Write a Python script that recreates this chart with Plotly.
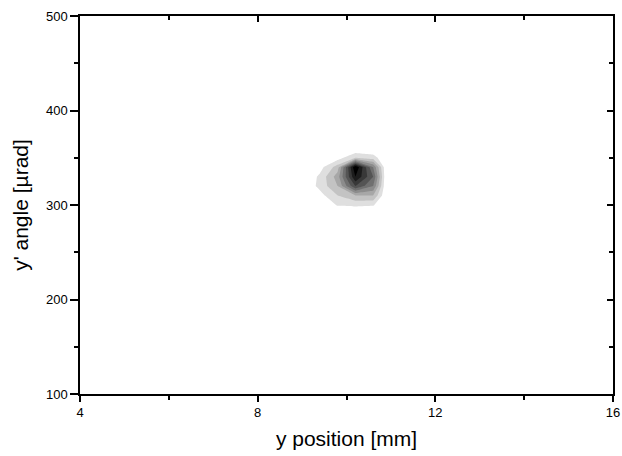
import plotly.graph_objects as go

# data grid: intensity vs y position and y' angle
x_mm = [9.0, 9.4, 9.8, 10.2, 10.6, 10.9]
y_urad = [290, 300, 310, 320, 330, 340, 350, 360]
z_col_90 = [0, 0, 0, 0, 0, 0, 0, 0]
z_col_94 = [0, 0, 0.6, 1.3, 1.2, 0.6, 0, 0]
z_col_98 = [0, 1.1, 2.0, 3.0, 3.5, 2.5, 0.5, 0]
z_col_102 = [0, 1.2, 3.0, 7.0, 9.0, 10.0, 2.0, 0]
z_col_106 = [0, 1.1, 3.0, 5.0, 6.0, 5.0, 1.5, 0]
z_col_109 = [0, 0, 0, 0, 0, 0, 0, 0]
cols = [z_col_90, z_col_94, z_col_98, z_col_102, z_col_106, z_col_109]
z = [[c[i] for c in cols] for i in range(len(y_urad))]

x_ticks = [4, 8, 12, 16]
y_ticks = [100, 200, 300, 400, 500]

FONT = "Liberation Sans, Arial, sans-serif"

fig = go.Figure()
fig.add_trace(go.Contour(
    x=x_mm, y=y_urad, z=z,
    zmin=0, zmax=10,
    contours=dict(start=1, end=9, size=1, coloring="fill", showlines=False),
    colorscale=[[0, "white"], [0.1, "white"], [0.1, "#e2e2e2"], [1, "black"]],
    showscale=False,
    line=dict(width=0, smoothing=0),
    hoverinfo="skip",
))
fig.add_trace(go.Scatter(x=[], y=[], xaxis="x2", yaxis="y2", showlegend=False))

axis_common = dict(showgrid=False, zeroline=False, showline=True, linecolor="black",
                   linewidth=1.5, tickcolor="black", tickwidth=1.5, automargin=False)

fig.update_layout(
    width=622, height=456,
    margin=dict(l=80, r=9, t=16, b=62),
    paper_bgcolor="white", plot_bgcolor="white",
    font=dict(family=FONT, color="black"),
    showlegend=False,
    xaxis=dict(range=[4, 16], tickvals=x_ticks, ticks="outside", ticklen=6,
               minor=dict(dtick=2, tick0=4, ticks="outside", ticklen=4, tickcolor="black", tickwidth=1.5),
               tickfont=dict(size=13, family=FONT),
               title=dict(text="y position [mm]", font=dict(size=21, family=FONT), standoff=12),
               **axis_common),
    yaxis=dict(range=[100, 500], tickvals=y_ticks, ticks="outside", ticklen=8,
               minor=dict(dtick=50, tick0=100, ticks="outside", ticklen=4, tickcolor="black", tickwidth=1.5),
               tickfont=dict(size=13, family=FONT),
               title=dict(text="y' angle [µrad]", font=dict(size=21, family=FONT), standoff=12),
               **axis_common),
    xaxis2=dict(range=[4, 16], overlaying="x", side="top", tickvals=x_ticks, ticks="inside",
                ticklen=6, showticklabels=False,
                minor=dict(dtick=2, tick0=4, ticks="inside", ticklen=4, tickcolor="black", tickwidth=1.5),
                **axis_common),
    yaxis2=dict(range=[100, 500], overlaying="y", side="right", tickvals=y_ticks, ticks="inside",
                ticklen=6, showticklabels=False,
                minor=dict(dtick=50, tick0=100, ticks="inside", ticklen=4, tickcolor="black", tickwidth=1.5),
                **axis_common),
)

fig.write_html("out.html", config={"displayModeBar": False},
               post_script="document.body.style.margin='0';")
